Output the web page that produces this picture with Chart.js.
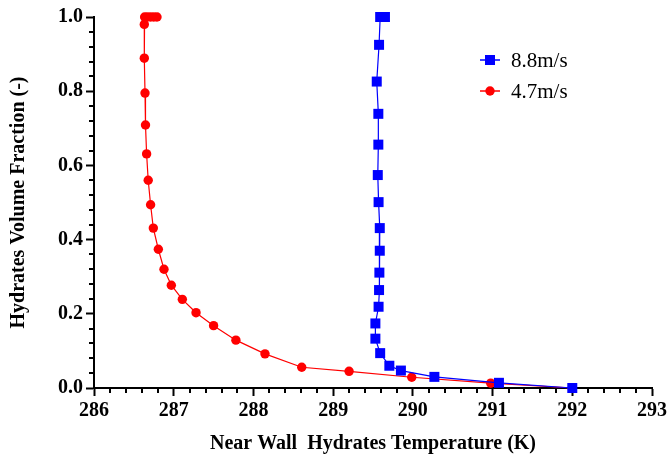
<!DOCTYPE html>
<html>
<head>
<meta charset="utf-8">
<script src="https://cdn.jsdelivr.net/npm/chart.js@4/dist/chart.umd.min.js"></script>
<style>
  html, body { margin: 0; padding: 0; background: #fff; }
  #wrap { width: 670px; height: 460px; position: relative; }
</style>
</head>
<body>
<div id="wrap"><canvas id="c" width="670" height="460"></canvas></div>
<script>
// Near-wall hydrate temperature (K) vs. hydrate volume fraction (-)
const seriesNames = ['8.8m/s', '4.7m/s'];

const temp88 = [289.65, 289.62, 289.59, 289.576, 289.547, 289.567, 289.567, 289.56, 289.57,
                289.585, 289.585, 289.58, 289.576, 289.57, 289.53, 289.53, 289.59, 289.705,
                289.85, 290.27, 291.08, 292.0];
const frac88 = [1.0, 1.0, 1.0, 0.925, 0.826, 0.739, 0.656, 0.574, 0.501,
                0.431, 0.370, 0.311, 0.264, 0.219, 0.174, 0.133, 0.094, 0.060,
                0.047, 0.030, 0.014, 0.0];

const temp47 = [286.79, 286.75, 286.71, 286.67, 286.635, 286.631, 286.631, 286.64, 286.646,
                286.66, 286.68, 286.71, 286.744, 286.807, 286.878, 286.97, 287.108, 287.28,
                287.50, 287.78, 288.145, 288.606, 289.20, 289.986, 290.977, 292.0];
const frac47 = [1.0, 1.0, 1.0, 1.0, 1.0, 0.980, 0.889, 0.795, 0.709,
                0.631, 0.560, 0.494, 0.431, 0.374, 0.320, 0.277, 0.239, 0.203,
                0.168, 0.129, 0.092, 0.056, 0.045, 0.029, 0.013, 0.0];

const xTicks = [286, 287, 288, 289, 290, 291, 292, 293];
const yTicks = [0.0, 0.2, 0.4, 0.6, 0.8, 1.0];

const toPoints = (xs, ys) => xs.map((x, i) => ({ x: x, y: ys[i] }));

const SERIF = '"Liberation Serif", "Times New Roman", serif';

// Short outward minor ticks on both axes
const minorTicks = {
  id: 'minorTicks',
  afterDraw(chart) {
    const { ctx, chartArea, scales } = chart;
    ctx.save();
    ctx.strokeStyle = '#000';
    ctx.lineWidth = 2;
    const xs = scales.x, ys = scales.y;
    for (let k = 1; k < (xTicks.length - 1) * 5; k++) {
      if (k % 5 === 0) continue;
      const px = Math.round(xs.getPixelForValue(xTicks[0] + k * 0.2));
      ctx.beginPath();
      ctx.moveTo(px, chartArea.bottom);
      ctx.lineTo(px, chartArea.bottom + 5);
      ctx.stroke();
    }
    for (let k = 1; k < (yTicks.length - 1) * 5; k++) {
      if (k % 5 === 0) continue;
      const py = Math.round(ys.getPixelForValue(k * 0.04));
      ctx.beginPath();
      ctx.moveTo(chartArea.left, py);
      ctx.lineTo(chartArea.left - 5, py);
      ctx.stroke();
    }
    ctx.restore();
  }
};

// Legend with a line segment through each marker
const lineLegend = {
  id: 'lineLegend',
  afterDraw(chart) {
    const { ctx } = chart;
    ctx.save();
    chart.data.datasets.forEach((ds, i) => {
      const cx = 490, cy = 60 + i * 31;
      ctx.strokeStyle = ds.borderColor;
      ctx.lineWidth = 1.5;
      ctx.beginPath();
      ctx.moveTo(cx - 10, cy);
      ctx.lineTo(cx + 10, cy);
      ctx.stroke();
      ctx.fillStyle = ds.pointBackgroundColor;
      if (ds.pointStyle === 'rect') {
        ctx.fillRect(cx - 5, cy - 5, 10, 10);
      } else {
        ctx.beginPath();
        ctx.arc(cx, cy, 4.7, 0, Math.PI * 2);
        ctx.fill();
      }
      ctx.fillStyle = '#000';
      ctx.font = '21px ' + SERIF;
      ctx.textBaseline = 'middle';
      ctx.textAlign = 'left';
      ctx.fillText(ds.label, 511, cy + 1);
    });
    ctx.restore();
  }
};

new Chart(document.getElementById('c'), {
  type: 'scatter',
  data: {
    datasets: [
      {
        label: seriesNames[0],
        data: toPoints(temp88, frac88),
        showLine: true,
        borderColor: '#0000ff',
        borderWidth: 1.2,
        pointStyle: 'rect',
        pointRadius: 7.07,
        pointBackgroundColor: '#0000ff',
        pointBorderWidth: 0,
        clip: false
      },
      {
        label: seriesNames[1],
        data: toPoints(temp47, frac47),
        showLine: true,
        borderColor: '#ff0000',
        borderWidth: 1.2,
        pointStyle: 'circle',
        pointRadius: 4.7,
        pointBackgroundColor: '#ff0000',
        pointBorderWidth: 0,
        clip: false
      }
    ]
  },
  options: {
    responsive: false,
    animation: false,
    events: [],
    layout: { padding: { top: 17, right: 18, left: 0, bottom: 0 } },
    plugins: {
      legend: { display: false },
      tooltip: { enabled: false }
    },
    scales: {
      x: {
        type: 'linear',
        min: xTicks[0],
        max: xTicks[xTicks.length - 1],
        afterBuildTicks: (s) => { s.ticks = xTicks.map(v => ({ value: v })); },
        afterFit: (s) => { s.height = 72; },
        border: { display: true, color: '#000', width: 2 },
        grid: { drawOnChartArea: false, drawTicks: true, tickLength: 8, tickWidth: 2, tickColor: '#000' },
        ticks: {
          color: '#000',
          padding: 3,
          maxRotation: 0,
          font: { family: SERIF, size: 20, weight: 'bold' },
          callback: (v) => String(v)
        },
        title: {
          display: true,
          text: 'Near Wall  Hydrates Temperature (K)',
          color: '#000',
          font: { family: SERIF, size: 20, weight: 'bold' },
          padding: { top: 0, bottom: 4 }
        }
      },
      y: {
        type: 'linear',
        min: 0,
        max: 1,
        afterBuildTicks: (s) => { s.ticks = yTicks.map(v => ({ value: v })); },
        afterFit: (s) => { s.width = 94; },
        border: { display: true, color: '#000', width: 2 },
        grid: { drawOnChartArea: false, drawTicks: true, tickLength: 8, tickWidth: 2, tickColor: '#000' },
        ticks: {
          color: '#000',
          padding: 3,
          font: { family: SERIF, size: 20, weight: 'bold' },
          callback: (v) => Number(v).toFixed(1)
        },
        title: {
          display: true,
          text: 'Hydrates Volume Fraction (-)',
          color: '#000',
          font: { family: SERIF, size: 20, weight: 'bold' },
          padding: { top: 7, bottom: 0 }
        }
      }
    }
  },
  plugins: [minorTicks, lineLegend]
});
</script>
</body>
</html>
